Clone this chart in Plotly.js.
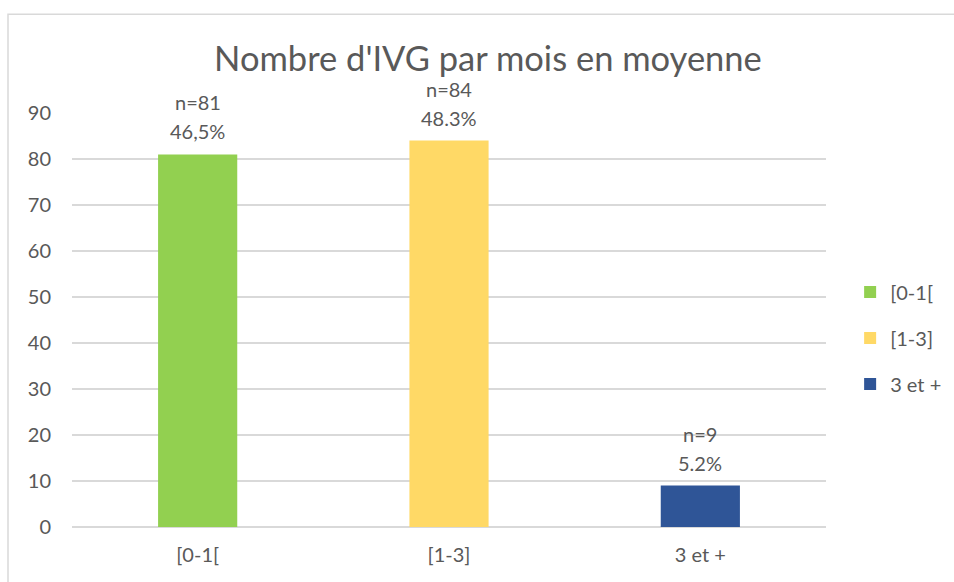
<!DOCTYPE html>
<html>
<head>
<meta charset="utf-8">
<script src="https://cdn.plot.ly/plotly-3.0.1.min.js"></script>
<style>
html,body{margin:0;padding:0;background:#fff;}
#chart{width:954px;height:582px;}
</style>
</head>
<body>
<div id="chart"></div>
<script>
const categories = ["[0-1[", "[1-3]", "3 et +"];
const counts = [81, 84, 9];
const countLabels = ["n=81", "n=84", "n=9"];
const pctLabels = ["46,5%", "48.3%", "5.2%"];
const colors = ["#92D050", "#FFD966", "#2F5597"];
const yTicks = [0, 10, 20, 30, 40, 50, 60, 70, 80, 90];

const FONT = "Lato, 'Open Sans', sans-serif";
const TXT = "#595959";

const traces = categories.map((c, i) => ({
  type: "bar",
  name: c,
  x: [c],
  y: [counts[i]],
  width: 0.315,
  marker: {color: colors[i], line: {width: 0}},
  legendgroup: "g" + i,
  hoverinfo: "x+y"
}));

const annotations = [];
categories.forEach((c, i) => {
  annotations.push({x: c, y: counts[i], xref: "x", yref: "y", text: pctLabels[i],
    showarrow: false, yanchor: "middle", yshift: 23, font: {family: FONT, size: 20, color: TXT}});
  annotations.push({x: c, y: counts[i], xref: "x", yref: "y", text: countLabels[i],
    showarrow: false, yanchor: "middle", yshift: 52, font: {family: FONT, size: 20, color: TXT}});
});

const layout = {
  width: 954, height: 582,
  margin: {l: 72, r: 128, t: 112.5, b: 54.5, pad: 0, autoexpand: false},
  paper_bgcolor: "#ffffff",
  plot_bgcolor: "#ffffff",
  barmode: "overlay",
  font: {family: FONT, size: 19, color: TXT},
  title: {
    text: "Nombre d'IVG par mois en moyenne",
    font: {family: FONT, size: 34.5, color: TXT},
    xref: "container", yref: "container",
    x: 0.5115, xanchor: "center",
    y: 1 - 59/582, yanchor: "middle"
  },
  xaxis: {
    type: "category",
    categoryorder: "array",
    categoryarray: categories,
    showgrid: false, zeroline: false, showline: false,
    ticks: "", tickfont: {family: FONT, size: 20, color: TXT},
    ticklabelstandoff: 14
  },
  yaxis: {
    range: [0, 90],
    tickvals: yTicks,
    ticktext: yTicks.map(String),
    showgrid: true, gridcolor: "#d9d9d9", gridwidth: 1.5,
    zeroline: true, zerolinecolor: "#d9d9d9", zerolinewidth: 1.5,
    showline: false, ticks: "",
    tickfont: {family: FONT, size: 20, color: TXT},
    ticklabelstandoff: 20
  },
  showlegend: true,
  legend: {
    x: 1.032, xanchor: "left",
    y: 0.615, yanchor: "top",
    font: {family: FONT, size: 20, color: TXT},
    tracegroupgap: 17,
    itemwidth: 30,
    bgcolor: "rgba(0,0,0,0)"
  },
  annotations: annotations,
  shapes: [{
    type: "rect", xref: "paper", yref: "paper",
    x0: (8 - 72) / 754, x1: 1.5,
    y0: -0.5, y1: (527.5 - 13.5) / 415,
    line: {color: "#d9d9d9", width: 1.5},
    fillcolor: "rgba(0,0,0,0)",
    layer: "below"
  }]
};

Plotly.newPlot("chart", traces, layout, {displayModeBar: false, staticPlot: true});
</script>
</body>
</html>
